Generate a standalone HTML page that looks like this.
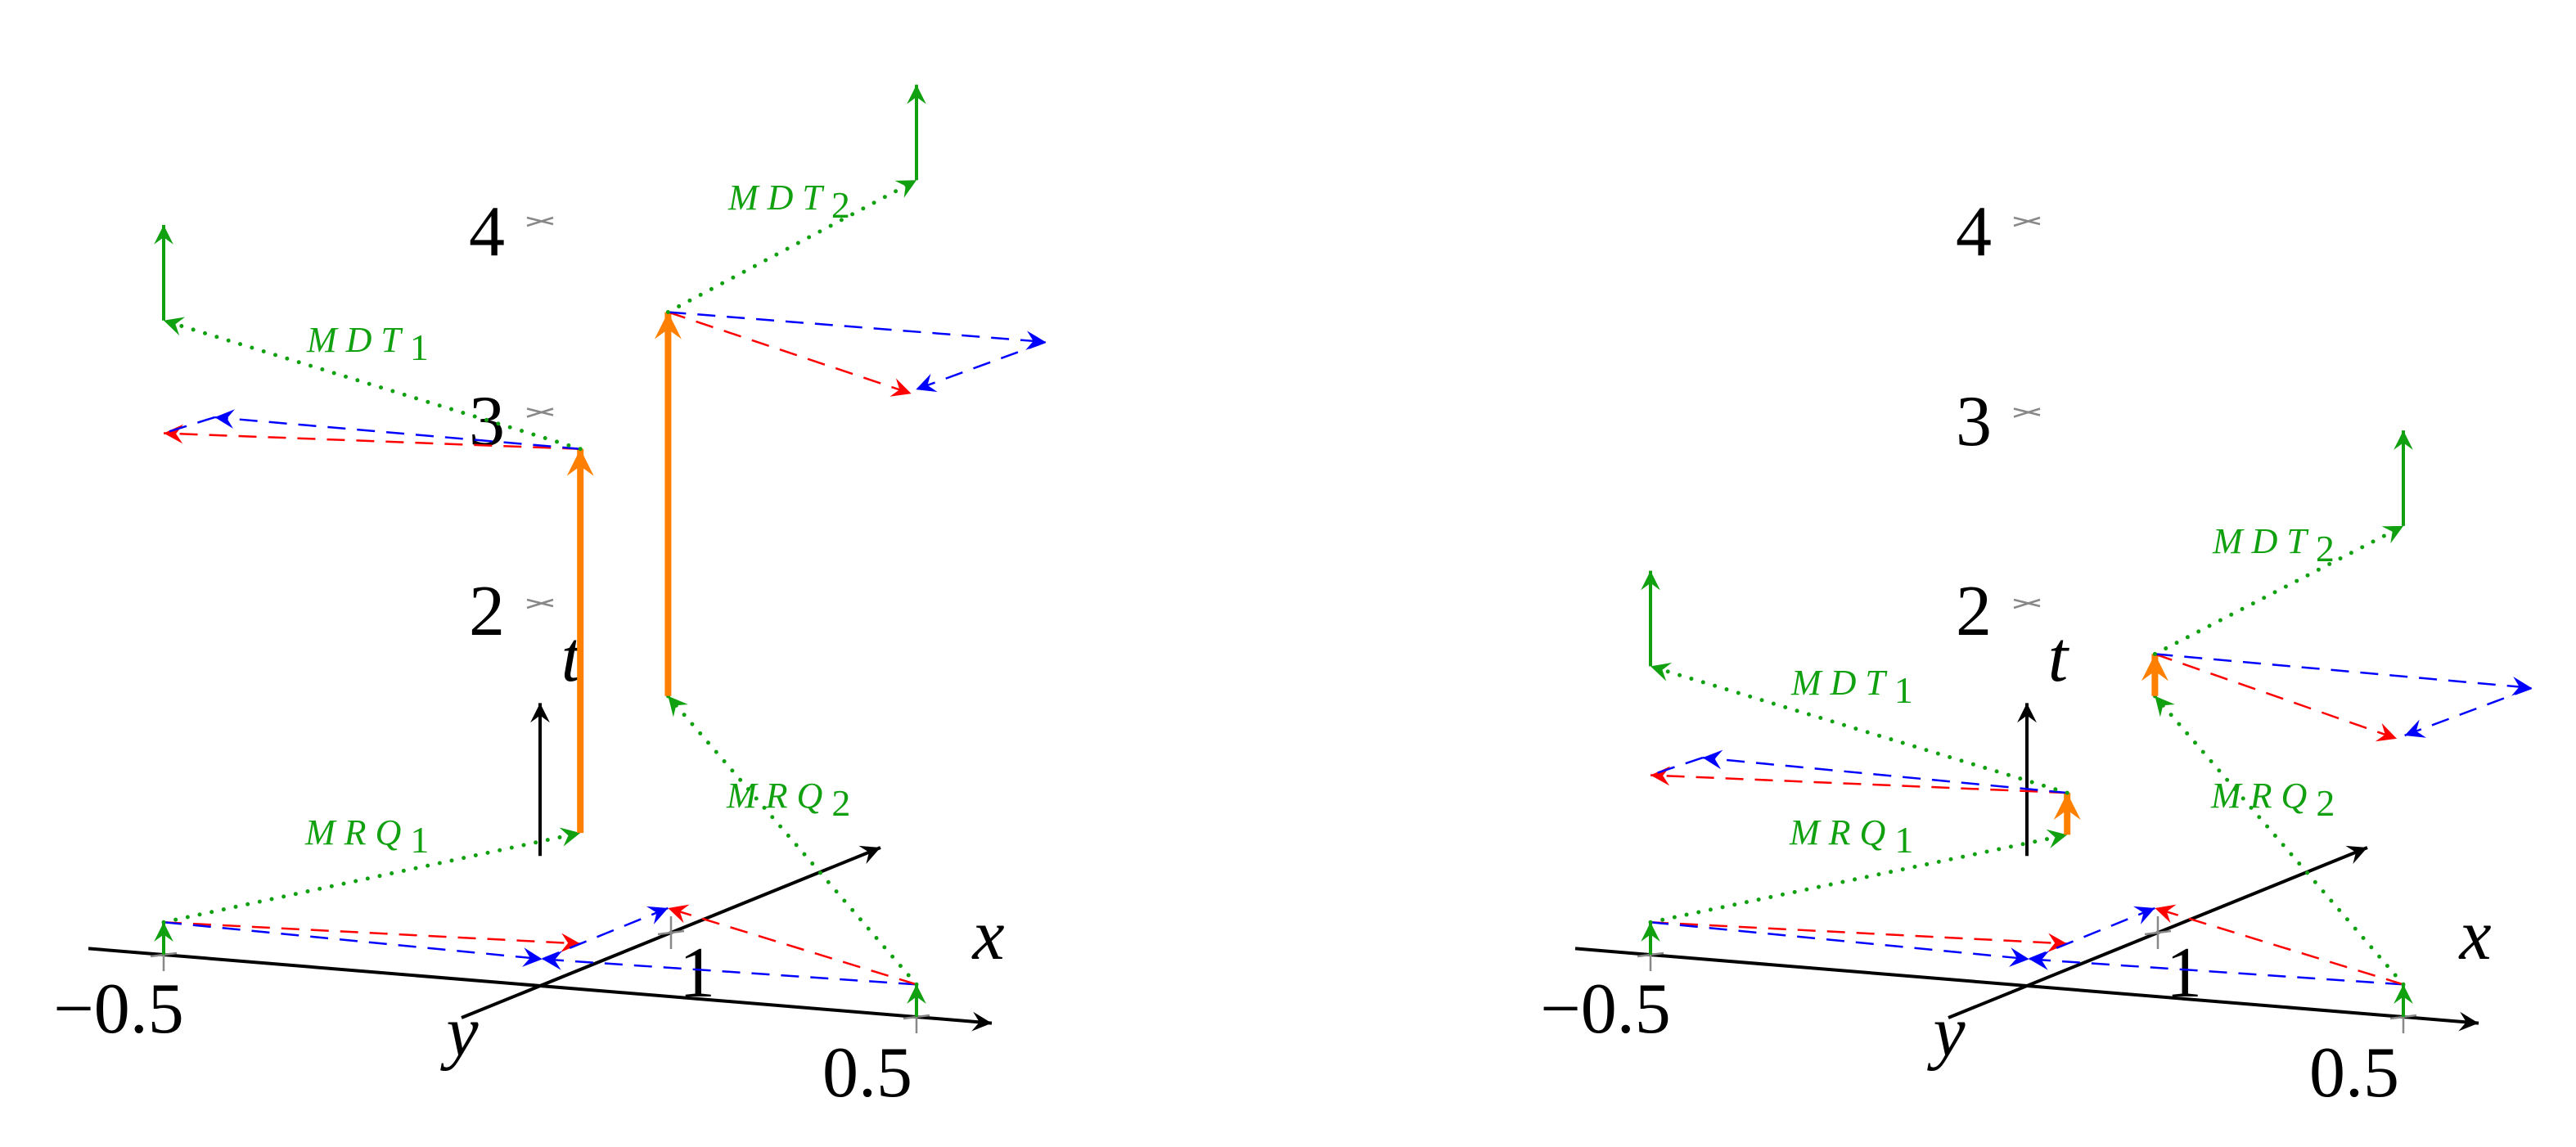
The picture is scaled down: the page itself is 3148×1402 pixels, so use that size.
<!DOCTYPE html>
<html><head><meta charset="utf-8">
<style>
html,body{margin:0;padding:0;background:#fff;}
svg{display:block;}
text{font-family:"Liberation Serif",serif;}
.num{font-size:88px;fill:#000;text-anchor:middle;}
.var{font-size:88px;font-style:italic;fill:#000;text-anchor:middle;}
.lab{font-size:44px;font-style:italic;fill:#10a010;letter-spacing:11px;}
.sub{font-style:normal;font-size:46px;letter-spacing:0;}
</style></head>
<body>
<svg id="chart" width="3148" height="1402" viewBox="0 0 3148 1402" xmlns="http://www.w3.org/2000/svg">
<defs>
<marker id="m-black" markerUnits="userSpaceOnUse" markerWidth="30" markerHeight="26" viewBox="-24 -12 26 24" refX="0" refY="0" orient="auto"><path d="M0,0 L-22,-11 L-14,0 L-22,11 Z" fill="#000"/></marker>
<marker id="m-red" markerUnits="userSpaceOnUse" markerWidth="28" markerHeight="26" viewBox="-24 -12 26 24" refX="0" refY="0" orient="auto"><path d="M0,0 L-22,-11 L-14,0 L-22,11 Z" fill="#ff0000"/></marker>
<marker id="m-blue" markerUnits="userSpaceOnUse" markerWidth="28" markerHeight="26" viewBox="-24 -12 26 24" refX="0" refY="0" orient="auto"><path d="M0,0 L-22,-11 L-14,0 L-22,11 Z" fill="#0000ff"/></marker>
<marker id="m-green" markerUnits="userSpaceOnUse" markerWidth="28" markerHeight="26" viewBox="-24 -12 26 24" refX="0" refY="0" orient="auto"><path d="M0,0 L-22,-11 L-14,0 L-22,11 Z" fill="#10a010"/></marker>
<marker id="m-orange" markerUnits="userSpaceOnUse" markerWidth="40" markerHeight="36" viewBox="-24 -12 26 24" refX="0" refY="0" orient="auto"><path d="M0,0 L-22,-11 L-14,0 L-22,11 Z" fill="#ff8000"/></marker>
</defs>
<g id="panels"></g>
</svg>
<script>
// ---- data (3D coordinates x, y, t) ----
const panelOffsets = [0, 1817];
const ptA = [-0.5, 0, 0];
const ptB = [0.5, 0, 0];
const ptR1 = [-0.07, 0.71, 0];
const ptB1 = [-0.07, 0.42, 0];
const ptM3 = [-0.07, 1.38, 0];
const tTicks = [2, 3, 4];
const mrq1T = [[0.58, 2.59], [0.57, 0.79]];
const mdt1T = [[3.32, 3.82], [1.51, 2.01]];
const red1T = [2.73, 0.94];
const blue1End = [[-0.487, 0.315, 2.73], [-0.49, 0.34, 0.94]];
const mrq2T = [[1.11, 3.12], [1.11, 1.33]];
const mdt2T = [[4.38, 4.88], [2.57, 3.07]];
const blue2End = [[0.428, 1.40, 3.12], [0.438, 1.336, 1.33]];
const blue2bEnd = [[0.414, 0.49, 3.12], [0.427, 0.43, 1.33]];
const red2End = [[0.42, 0.42, 3.12], [0.427, 0.37, 1.33]];
const groundArrowT = 0.17;

// ---- projection ----
function proj(p, off) {
  return [660 + off + 920 * p[0] + 160 * p[1], 1205 + 76 * p[0] - 65 * p[1] - 233.5 * p[2]];
}
const NS = 'http://www.w3.org/2000/svg';
const root = document.getElementById('panels');
function line(g, a, b, off, style, name) {
  const pa = proj(a, off), pb = proj(b, off);
  const l = document.createElementNS(NS, 'line');
  l.setAttribute('x1', pa[0]); l.setAttribute('y1', pa[1]);
  l.setAttribute('x2', pb[0]); l.setAttribute('y2', pb[1]);
  for (const k in style) l.setAttribute(k, style[k]);
  
  
  g.appendChild(l);
  return l;
}
const S = {
  axis: {stroke:'#000','stroke-width':4,'marker-end':'url(#m-black)'},
  red: {stroke:'#ff0000','stroke-width':2.5,'stroke-dasharray':'22 14','marker-end':'url(#m-red)'},
  blue: {stroke:'#0000ff','stroke-width':2.5,'stroke-dasharray':'22 14','marker-end':'url(#m-blue)'},
  blueplain: {stroke:'#0000ff','stroke-width':2.5,'stroke-dasharray':'22 14'},
  dot: {stroke:'#10a010','stroke-width':5,'stroke-dasharray':'0 15','stroke-linecap':'round','marker-end':'url(#m-green)'},
  green: {stroke:'#10a010','stroke-width':4,'marker-end':'url(#m-green)'},
  orange: {stroke:'#ff8000','stroke-width':8,'marker-end':'url(#m-orange)'}
};
function at(p, t) { return [p[0], p[1], t]; }
function txt(g, x, y, cls, s, name) {
  const t = document.createElementNS(NS, 'text');
  t.setAttribute('x', x); t.setAttribute('y', y); t.setAttribute('class', cls);
  t.textContent = s;
  
  
  g.appendChild(t);
}
function glabel(g, x, y, main, sub, name) {
  const t = document.createElementNS(NS, 'text');
  t.setAttribute('x', x); t.setAttribute('y', y); t.setAttribute('class', 'lab');
  t.textContent = main;
  const s = document.createElementNS(NS, 'tspan');
  s.setAttribute('class', 'sub'); s.setAttribute('dy', '10'); s.textContent = sub;
  t.appendChild(s);
  
  
  g.appendChild(t);
}
function cross(g, p, off, name) {
  const c = proj(p, off);
  const path = document.createElementNS(NS, 'path');
  path.setAttribute('d', `M${c[0]-16},${c[1]+5} L${c[0]+16},${c[1]-5} M${c[0]-16},${c[1]-5} L${c[0]+16},${c[1]+3}`);
  path.setAttribute('stroke', '#888'); path.setAttribute('stroke-width', 2.5); path.setAttribute('fill', 'none');
  
  
  g.appendChild(path);
}
function vcross(g, p, off, name) {
  const c = proj(p, off);
  const path = document.createElementNS(NS, 'path');
  path.setAttribute('d', `M${c[0]},${c[1]-20} L${c[0]},${c[1]+20} M${c[0]-16},${c[1]+2} L${c[0]+16},${c[1]-2}`);
  path.setAttribute('stroke', '#888'); path.setAttribute('stroke-width', 2.5); path.setAttribute('fill', 'none');
  
  
  g.appendChild(path);
}

panelOffsets.forEach((off, i) => {
  const g = document.createElementNS(NS, 'g');
  
  
  root.appendChild(g);
  const A0 = at(ptA, groundArrowT), B0 = at(ptB, groundArrowT);
  // axes
  line(g, [-0.6,0,0], [0.6,0,0], off, S.axis, 'x-axis');
  line(g, [0,-0.6,0], [0,2.6,0], off, S.axis, 'y-axis');
  line(g, [0,0,0.68], [0,0,1.48], off, S.axis, 't-axis');
  tTicks.forEach(t => cross(g, [0,0,t], off, 't-tick-' + t));
  vcross(g, ptA, off, 'x-tick-neg');
  vcross(g, ptB, off, 'x-tick-pos');
  vcross(g, [0,1,0], off, 'y-tick-1');
  // tick labels
  txt(g, 595+off, 312, 'num', '4', 't-label-4');
  txt(g, 595+off, 544, 'num', '3', 't-label-3');
  txt(g, 595+off, 776, 'num', '2', 't-label-2');
  txt(g, 145+off, 1262, 'num', '\u22120.5', 'x-label-neg');
  txt(g, 1060+off, 1340, 'num', '0.5', 'x-label-pos');
  txt(g, 852+off, 1218, 'num', '1', 'y-label-1');
  txt(g, 1208+off, 1172, 'var', 'x', 'x-axis-title');
  txt(g, 565+off, 1290, 'var', 'y', 'y-axis-title');
  txt(g, 698+off, 832, 'var', 't', 't-axis-title');
  // ground vectors
  line(g, ptA, A0, off, S.green, 'ground-arrow-a');
  line(g, ptB, B0, off, S.green, 'ground-arrow-b');
  line(g, A0, ptR1, off, S.red, 'ground-red-1');
  line(g, A0, ptB1, off, S.blue, 'ground-blue-1');
  line(g, B0, ptB1, off, S.blue, 'ground-blue-2');
  line(g, ptB1, ptM3, off, S.blue, 'ground-blue-3');
  line(g, B0, ptM3, off, S.red, 'ground-red-2');
  // first message
  line(g, A0, at(ptR1, mrq1T[i][0]), off, S.dot, 'mrq1-arrow');
  line(g, at(ptR1, mrq1T[i][0]), at(ptR1, mrq1T[i][1]), off, S.orange, 'orange-1');
  line(g, at(ptR1, mrq1T[i][1]), at(ptA, red1T[i]), off, S.red, 'red-1');
  line(g, at(ptR1, mrq1T[i][1]), blue1End[i], off, S.blue, 'blue-1');
  line(g, blue1End[i], at(ptA, red1T[i]), off, S.blueplain, 'blue-1b');
  line(g, at(ptR1, mrq1T[i][1]), at(ptA, mdt1T[i][0]), off, S.dot, 'mdt1-arrow');
  line(g, at(ptA, mdt1T[i][0]), at(ptA, mdt1T[i][1]), off, S.green, 'green-up-1');
  // second message
  line(g, B0, at(ptM3, mrq2T[i][0]), off, S.dot, 'mrq2-arrow');
  line(g, at(ptM3, mrq2T[i][0]), at(ptM3, mrq2T[i][1]), off, S.orange, 'orange-2');
  line(g, at(ptM3, mrq2T[i][1]), red2End[i], off, S.red, 'red-2');
  line(g, at(ptM3, mrq2T[i][1]), blue2End[i], off, S.blue, 'blue-2');
  line(g, blue2End[i], blue2bEnd[i], off, S.blue, 'blue-2b');
  line(g, at(ptM3, mrq2T[i][1]), at(ptB, mdt2T[i][0]), off, S.dot, 'mdt2-arrow');
  line(g, at(ptB, mdt2T[i][0]), at(ptB, mdt2T[i][1]), off, S.green, 'green-up-2');
  // labels
  if (i === 0) {
    glabel(g, 375, 430, 'MDT', '1', 'mdt1-label');
    glabel(g, 373, 1032, 'MRQ', '1', 'mrq1-label');
    glabel(g, 890, 256, 'MDT', '2', 'mdt2-label');
    glabel(g, 888, 987, 'MRQ', '2', 'mrq2-label');
  } else {
    glabel(g, 2189, 849, 'MDT', '1', 'mdt1-label');
    glabel(g, 2187, 1032, 'MRQ', '1', 'mrq1-label');
    glabel(g, 2704, 676, 'MDT', '2', 'mdt2-label');
    glabel(g, 2702, 987, 'MRQ', '2', 'mrq2-label');
  }
});
</script>
</body></html>
